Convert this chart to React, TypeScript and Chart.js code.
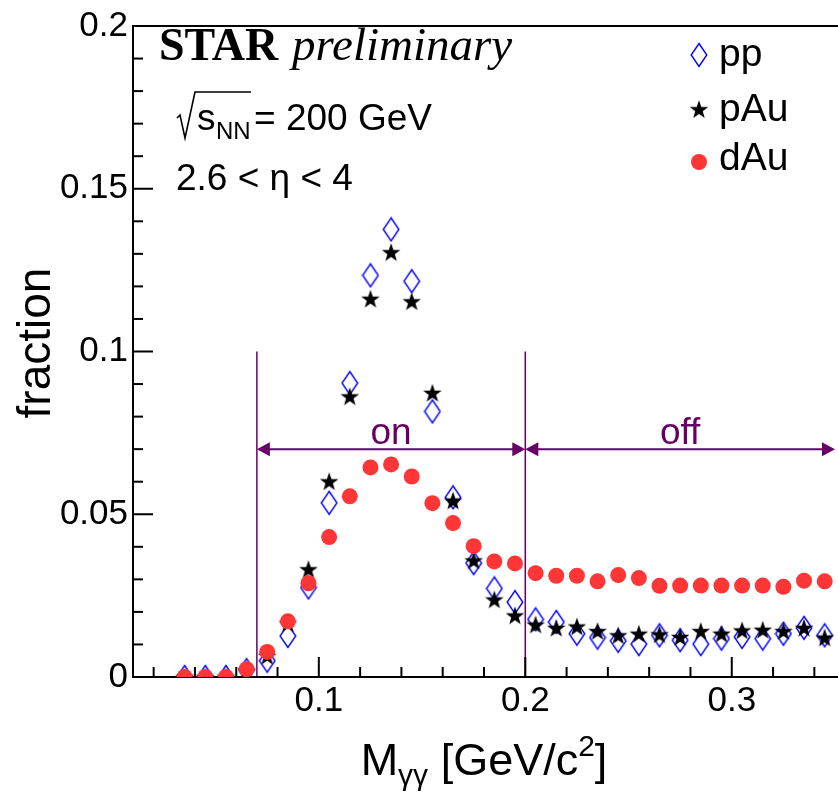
import React, { useEffect, useRef } from "react";
import { Chart, registerables } from "chart.js";

Chart.register(...registerables);

// ---------- data ----------
const massBins = [
  0.035, 0.045, 0.055, 0.065, 0.075, 0.085, 0.095, 0.105, 0.115, 0.125, 0.135,
  0.145, 0.155, 0.165, 0.175, 0.185, 0.195, 0.205, 0.215, 0.225, 0.235, 0.245,
  0.255, 0.265, 0.275, 0.285, 0.295, 0.305, 0.315, 0.325, 0.335, 0.345,
];

const ppFraction = [
  0, 0, 0, 0.0021, 0.005, 0.0126, 0.0275, 0.0535, 0.0903, 0.1234, 0.1375,
  0.1216, 0.0816, 0.0552, 0.035, 0.0272, 0.023, 0.0177, 0.0169, 0.0133, 0.0121,
  0.0111, 0.0101, 0.0128, 0.0113, 0.0101, 0.0118, 0.0123, 0.0118, 0.0133,
  0.0151, 0.0128,
];

const pAuFraction = [
  0, 0, 0, 0.002, 0.0065, 0.0165, 0.0331, 0.0601, 0.0862, 0.1162, 0.1305,
  0.1154, 0.0873, 0.0542, 0.0358, 0.0238, 0.0189, 0.0161, 0.0151, 0.0155,
  0.0141, 0.0128, 0.0133, 0.0131, 0.0123, 0.0141, 0.0133, 0.0143, 0.0145,
  0.0141, 0.0151, 0.0121,
];

const dAuFraction = [
  0, 0, 0, 0.0024, 0.0077, 0.0171, 0.0288, 0.043, 0.0555, 0.0644, 0.0653,
  0.0616, 0.0534, 0.0473, 0.0402, 0.0355, 0.0349, 0.0319, 0.0311, 0.0311,
  0.0294, 0.0313, 0.0304, 0.028, 0.0281, 0.0281, 0.0281, 0.0281, 0.0281,
  0.0277, 0.0296, 0.0294,
];

const seriesNames = ["pp", "pAu", "dAu"];

const xTickValues = [
  0.02, 0.04, 0.06, 0.08, 0.1, 0.12, 0.14, 0.16, 0.18, 0.2, 0.22, 0.24, 0.26,
  0.28, 0.3, 0.32, 0.34,
];
const xTickLabels = [
  "", "", "", "", "0.1", "", "", "", "", "0.2", "", "", "", "", "0.3", "", "",
];
const yTickValues = [
  0, 0.01, 0.02, 0.03, 0.04, 0.05, 0.06, 0.07, 0.08, 0.09, 0.1, 0.11, 0.12,
  0.13, 0.14, 0.15, 0.16, 0.17, 0.18, 0.19, 0.2,
];
const yTickLabels = [
  "0", "", "", "", "", "0.05", "", "", "", "", "0.1", "", "", "", "", "0.15",
  "", "", "", "", "0.2",
];

const xRange = [0.01, 0.35];
const yRange = [0, 0.2];

// signal window markers
const windowEdges = [0.07, 0.2, 0.35];
const windowLabels = ["on", "off"];
const windowLineTop = 0.1;
const windowArrowLevel = 0.07;

// ---------- styles ----------
const SANS = '"Liberation Sans", Arial, Helvetica, sans-serif';
const SERIF = '"Liberation Serif", "Times New Roman", serif';
const PURPLE = "rgb(102,0,102)";
const RED = "rgb(255,54,54)";
const BLUE = "rgb(0,0,255)";

function makeDiamond(): HTMLCanvasElement {
  const c = document.createElement("canvas");
  c.width = 18;
  c.height = 26;
  const g = c.getContext("2d")!;
  g.strokeStyle = BLUE;
  g.lineWidth = 1.4;
  g.beginPath();
  g.moveTo(9, 1.5);
  g.lineTo(16.8, 13);
  g.lineTo(9, 24.5);
  g.lineTo(1.2, 13);
  g.closePath();
  g.stroke();
  return c;
}

function makeStar(): HTMLCanvasElement {
  const c = document.createElement("canvas");
  c.width = 22;
  c.height = 22;
  const g = c.getContext("2d")!;
  g.fillStyle = "#000";
  const R = 9.8;
  const r = 3.9;
  const cx = 11;
  const cy = 11.8;
  g.beginPath();
  for (let i = 0; i < 10; i++) {
    const rad = i % 2 === 0 ? R : r;
    const ang = -Math.PI / 2 + (i * Math.PI) / 5;
    const px = cx + rad * Math.cos(ang);
    const py = cy + rad * Math.sin(ang);
    if (i === 0) g.moveTo(px, py);
    else g.lineTo(px, py);
  }
  g.closePath();
  g.fill();
  return c;
}

type Run = { text: string; font: string; dy?: number };

function drawRuns(
  ctx: CanvasRenderingContext2D,
  runs: Run[],
  x: number,
  y: number,
  align: "left" | "center"
) {
  ctx.textAlign = "left";
  ctx.textBaseline = "alphabetic";
  let total = 0;
  const widths = runs.map((r) => {
    ctx.font = r.font;
    const w = ctx.measureText(r.text).width;
    total += w;
    return w;
  });
  let cx = align === "center" ? x - total / 2 : x;
  runs.forEach((r, i) => {
    ctx.font = r.font;
    ctx.fillText(r.text, cx, y + (r.dy || 0));
    cx += widths[i];
  });
}

function arrowHead(
  ctx: CanvasRenderingContext2D,
  tipX: number,
  y: number,
  dir: number
) {
  ctx.beginPath();
  ctx.moveTo(tipX, y);
  ctx.lineTo(tipX - dir * 13, y - 7);
  ctx.lineTo(tipX - dir * 13, y + 7);
  ctx.closePath();
  ctx.fill();
}

export default function App() {
  const ref = useRef<HTMLCanvasElement | null>(null);

  useEffect(() => {
    const canvas = ref.current;
    if (!canvas) return;
    const diamond = makeDiamond();
    const star = makeStar();

    const framePlugin = {
      id: "rootFrame",
      beforeDatasetsDraw(chart: any) {
        const { ctx, chartArea: a, scales } = chart;
        const xs = scales.x;
        const ys = scales.y;
        ctx.save();
        // signal window lines and arrows
        ctx.strokeStyle = PURPLE;
        ctx.fillStyle = PURPLE;
        ctx.lineWidth = 1.5;
        const yTop = ys.getPixelForValue(windowLineTop);
        const yBot = ys.getPixelForValue(0);
        [windowEdges[0], windowEdges[1]].forEach((v) => {
          const px = xs.getPixelForValue(v);
          ctx.beginPath();
          ctx.moveTo(px, yTop);
          ctx.lineTo(px, yBot);
          ctx.stroke();
        });
        const ay = ys.getPixelForValue(windowArrowLevel);
        ctx.lineWidth = 2;
        for (let i = 0; i < 2; i++) {
          const p0 = xs.getPixelForValue(windowEdges[i]);
          const p1 = xs.getPixelForValue(windowEdges[i + 1]);
          ctx.beginPath();
          ctx.moveTo(p0 + 6, ay);
          ctx.lineTo(p1 - 6, ay);
          ctx.stroke();
          arrowHead(ctx, p0, ay, -1);
          arrowHead(ctx, p1, ay, 1);
          ctx.font = `37px ${SANS}`;
          ctx.textAlign = "center";
          ctx.textBaseline = "alphabetic";
          ctx.fillText(windowLabels[i], (p0 + p1) / 2, ay - 5);
        }

        // frame
        ctx.strokeStyle = "#000";
        ctx.lineWidth = 2;
        ctx.beginPath();
        ctx.moveTo(a.right + 10, a.top);
        ctx.lineTo(a.left, a.top);
        ctx.lineTo(a.left, a.bottom);
        ctx.lineTo(a.right + 10, a.bottom);
        ctx.stroke();
        // inward ticks
        xTickValues.forEach((v, i) => {
          const px = xs.getPixelForValue(v);
          const len = xTickLabels[i] ? 20 : 10;
          ctx.beginPath();
          ctx.moveTo(px, a.bottom);
          ctx.lineTo(px, a.bottom - len);
          ctx.stroke();
        });
        yTickValues.forEach((v, i) => {
          const py = ys.getPixelForValue(v);
          const len = yTickLabels[i] ? 20 : 10;
          ctx.beginPath();
          ctx.moveTo(a.left, py);
          ctx.lineTo(a.left + len, py);
          ctx.stroke();
        });
        ctx.restore();
      },
      afterDraw(chart: any) {
        const { ctx, chartArea: a } = chart;
        ctx.save();
        ctx.fillStyle = "#000";
        // axis titles
        drawRuns(
          ctx,
          [
            { text: "M", font: `45px ${SANS}` },
            { text: "\u03b3\u03b3", font: `30px ${SANS}`, dy: 10 },
            { text: " [GeV/c", font: `45px ${SANS}` },
            { text: "2", font: `30px ${SANS}`, dy: -19 },
            { text: "]", font: `45px ${SANS}` },
          ],
          (a.left + a.right) / 2,
          775,
          "center"
        );
        ctx.save();
        ctx.translate(50, 343);
        ctx.rotate(-Math.PI / 2);
        ctx.font = `46px ${SANS}`;
        ctx.textAlign = "center";
        ctx.textBaseline = "alphabetic";
        ctx.fillText("fraction", 0, 0);
        ctx.restore();

        // STAR preliminary
        ctx.textAlign = "left";
        ctx.textBaseline = "alphabetic";
        ctx.font = `bold 46px ${SERIF}`;
        ctx.fillText("STAR", 159, 60);
        ctx.font = `italic 47px ${SERIF}`;
        ctx.fillText("preliminary", 292, 60);

        // sqrt(s_NN) = 200 GeV
        ctx.strokeStyle = "#000";
        ctx.lineWidth = 1.6;
        ctx.beginPath();
        ctx.moveTo(177, 118);
        ctx.lineTo(180, 115);
        ctx.lineTo(185, 138);
        ctx.lineTo(195, 92);
        ctx.lineTo(251, 92);
        ctx.stroke();
        ctx.font = `37px ${SANS}`;
        ctx.fillText("s", 197, 130);
        ctx.font = `24px ${SANS}`;
        ctx.fillText("NN", 216, 139);
        ctx.font = `37px ${SANS}`;
        ctx.fillText("= 200 GeV", 254, 130);
        ctx.fillText("2.6 < \u03b7 < 4", 176, 190);

        // legend
        ctx.font = `39px ${SANS}`;
        const legendY = [66, 121, 170];
        const markerY = [55, 110, 162];
        seriesNames.forEach((name, i) => {
          ctx.fillText(name, 719, legendY[i]);
        });
        ctx.drawImage(diamond, 699 - 9, markerY[0] - 13);
        ctx.drawImage(star, 699 - 11, markerY[1] - 11.8);
        ctx.fillStyle = RED;
        ctx.beginPath();
        ctx.arc(699, markerY[2], 8, 0, Math.PI * 2);
        ctx.fill();
        ctx.restore();
      },
    };

    const toPoints = (vals: number[]) =>
      massBins.map((m, i) => ({ x: m, y: vals[i] }));

    const chart = new Chart(canvas, {
      type: "scatter",
      data: {
        datasets: [
          {
            label: seriesNames[2],
            data: toPoints(dAuFraction),
            pointStyle: "circle",
            pointRadius: 8,
            backgroundColor: RED,
            borderWidth: 0,
            order: 0,
          },
          {
            label: seriesNames[1],
            data: toPoints(pAuFraction),
            pointStyle: star as any,
            order: 1,
          },
          {
            label: seriesNames[0],
            data: toPoints(ppFraction),
            pointStyle: diamond as any,
            order: 2,
          },
        ],
      },
      options: {
        animation: false,
        responsive: false,
        devicePixelRatio: 1,
        layout: { padding: { top: 21, left: 0, right: 2, bottom: 0 } },
        plugins: {
          legend: { display: false },
          tooltip: { enabled: false },
          title: { display: false },
        },
        scales: {
          x: {
            type: "linear",
            min: xRange[0],
            max: xRange[1],
            grid: { display: false, drawTicks: false },
            border: { display: false },
            afterBuildTicks: (scale: any) => {
              scale.ticks = xTickValues.map((v) => ({ value: v }));
            },
            afterFit: (scale: any) => {
              scale.height = 116;
            },
            ticks: {
              autoSkip: false,
              maxRotation: 0,
              padding: 3,
              color: "#000",
              font: { family: SANS, size: 35 },
              callback: (_v: any, i: number) => xTickLabels[i],
            },
          },
          y: {
            type: "linear",
            min: yRange[0],
            max: yRange[1],
            grid: { display: false, drawTicks: false },
            border: { display: false },
            afterBuildTicks: (scale: any) => {
              scale.ticks = yTickValues.map((v) => ({ value: v }));
            },
            afterFit: (scale: any) => {
              scale.width = 133;
            },
            ticks: {
              autoSkip: false,
              padding: 5,
              color: "#000",
              font: { family: SANS, size: 35 },
              callback: (_v: any, i: number) => yTickLabels[i],
            },
          },
        },
      },
      plugins: [framePlugin],
    } as any);

    return () => chart.destroy();
  }, []);

  return (
    <div
      style={{
        position: "fixed",
        left: 0,
        top: 0,
        width: 838,
        height: 793,
        overflow: "hidden",
        background: "#fff",
      }}
    >
      <canvas ref={ref} width={843} height={793} style={{ display: "block" }} />
    </div>
  );
}
